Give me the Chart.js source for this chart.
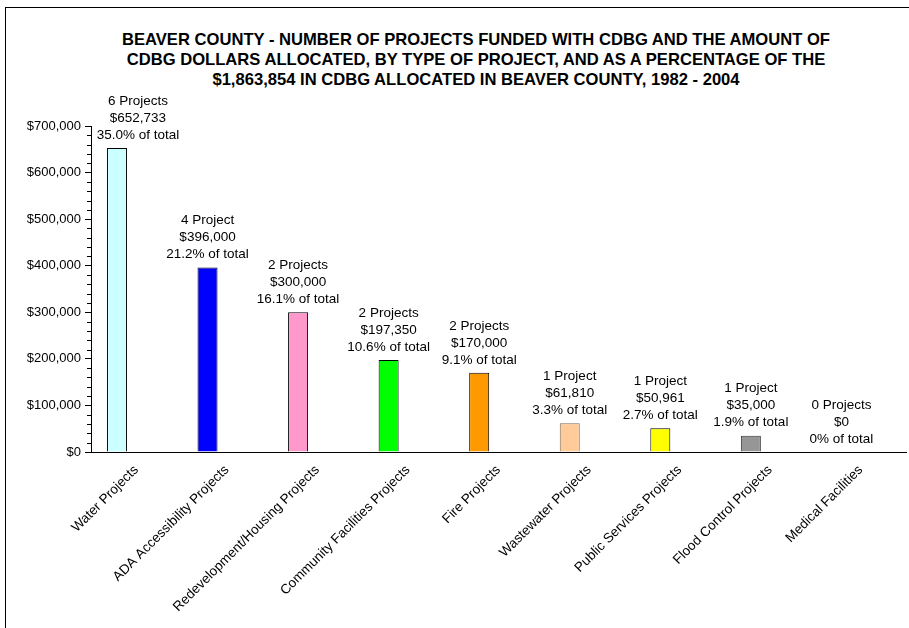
<!DOCTYPE html>
<html>
<head>
<meta charset="utf-8">
<script src="https://cdn.jsdelivr.net/npm/chart.js@4/dist/chart.umd.min.js"></script>
<style>
  html, body { margin: 0; padding: 0; background: #fff; overflow: hidden; }
  #wrap { position: relative; width: 909px; height: 628px; }
  #frame { position: absolute; left: 5px; top: 7px; width: 960px; height: 700px;
           border-left: 1px solid #000; border-top: 1px solid #000; }
  #title { position: absolute; left: 26px; width: 900px; top: 30px; text-align: center;
           font: bold 16.6px "Liberation Sans", Arial, sans-serif; line-height: 20px; color: #000; }
  canvas { position: absolute; left: 0; top: 0; }
</style>
</head>
<body>
<div id="wrap">
  <div id="frame"></div>
  <div id="title">BEAVER COUNTY - NUMBER OF PROJECTS FUNDED WITH CDBG AND THE AMOUNT OF<br>CDBG DOLLARS ALLOCATED, BY TYPE OF PROJECT, AND AS A PERCENTAGE OF THE<br>$1,863,854 IN CDBG ALLOCATED IN BEAVER COUNTY, 1982 - 2004</div>
  <canvas id="myChart" width="909" height="628"></canvas>
</div>
<script>
const categories = [
  "Water Projects",
  "ADA Accessibility Projects",
  "Redevelopment/Housing Projects",
  "Community Facilities Projects",
  "Fire Projects",
  "Wastewater Projects",
  "Public Services Projects",
  "Flood Control Projects",
  "Medical Facilities",
];
const dollars = [652733, 396000, 300000, 197350, 170000, 61810, 50961, 35000, 0];
const projectLabels = ["6 Projects", "4 Project", "2 Projects", "2 Projects", "2 Projects",
  "1 Project", "1 Project", "1 Project", "0 Projects"];
const percentLabels = ["35.0%", "21.2%", "16.1%", "10.6%", "9.1%", "3.3%", "2.7%", "1.9%", "0%"];
const barColors = ["#CCFFFF", "#0000FF", "#FF99CC", "#00FF00", "#FF9900",
  "#FFCC99", "#FFFF00", "#969696", "#9999FF"];
const barBorders = ["#000", "#000", "#000", "#000", "#000", "#7a6a5a", "#000", "#333", "#000"];
const yTicks = [0, 100000, 200000, 300000, 400000, 500000, 600000, 700000];

const fontFamily = '"Liberation Sans", Arial, sans-serif';
const money = (v) => "$" + v.toLocaleString("en-US");

// small tick marks every $20,000 between the labelled ones
const minorTicks = {
  id: "minorTicks",
  afterDraw(chart) {
    const y = chart.scales.y;
    const ctx = chart.ctx;
    ctx.save();
    ctx.strokeStyle = "#000";
    ctx.lineWidth = 1;
    for (let v = 20000; v < 700000; v += 20000) {
      if (v % 100000 === 0) continue;
      const py = Math.round(y.getPixelForValue(v)) + 0.5;
      ctx.beginPath();
      ctx.moveTo(y.right - 4, py);
      ctx.lineTo(y.right, py);
      ctx.stroke();
    }
    ctx.restore();
  },
};

// three line label above each bar
const barLabels = {
  id: "barLabels",
  afterDatasetsDraw(chart, args, opts) {
    const ctx = chart.ctx;
    const meta = chart.getDatasetMeta(0);
    ctx.save();
    ctx.font = "13.5px " + fontFamily;
    ctx.fillStyle = "#000";
    ctx.textAlign = "center";
    ctx.textBaseline = "middle";
    meta.data.forEach((bar, i) => {
      const x = bar.x + (opts.shift[i] || 0);
      const lines = [projectLabels[i], money(dollars[i]), percentLabels[i] + " of total"];
      lines.forEach((t, j) => {
        ctx.fillText(t, x, bar.y - 13 - (2 - j) * 17);
      });
    });
    ctx.restore();
  },
};

new Chart(document.getElementById("myChart"), {
  type: "bar",
  data: {
    labels: categories,
    datasets: [
      {
        data: dollars,
        backgroundColor: barColors,
        borderColor: barBorders,
        borderWidth: 1,
        borderSkipped: "bottom",
        categoryPercentage: 0.853,
        barPercentage: 0.518,
      },
      {
        // empty second series, keeps the bars left of the category centre
        data: categories.map(() => null),
        backgroundColor: "rgba(0,0,0,0)",
        categoryPercentage: 0.853,
        barPercentage: 0.518,
      },
    ],
  },
  plugins: [minorTicks, barLabels],
  options: {
    responsive: false,
    animation: false,
    layout: { padding: { top: 126, right: 3, left: 0, bottom: 0 } },
    plugins: {
      legend: { display: false },
      title: { display: false },
      tooltip: { enabled: false },
      barLabels: { shift: [21] },
    },
    scales: {
      x: {
        afterFit: (s) => { s.height = 176; },
        grid: { display: false, drawTicks: false },
        border: { color: "#000", width: 1 },
        ticks: {
          autoSkip: false,
          minRotation: 45,
          maxRotation: 45,
          padding: 10,
          color: "#000",
          font: { family: fontFamily, size: 13.5 },
        },
      },
      y: {
        min: 0,
        max: 700000,
        afterFit: (s) => { s.width = 91; },
        afterBuildTicks: (s) => { s.ticks = yTicks.map((v) => ({ value: v })); },
        grid: { drawOnChartArea: false, tickLength: 6, tickColor: "#000" },
        border: { color: "#000", width: 1 },
        ticks: {
          padding: 4,
          color: "#000",
          font: { family: fontFamily, size: 13 },
          callback: (v) => money(v),
        },
      },
    },
  },
});
</script>
</body>
</html>
